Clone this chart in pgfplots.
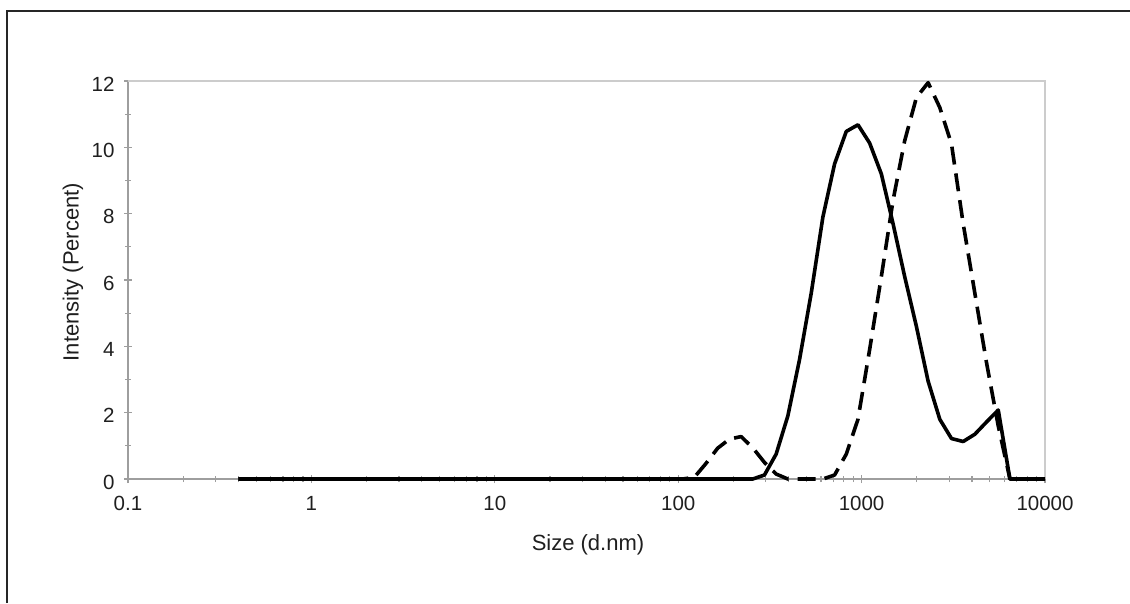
\documentclass[border=0pt]{standalone}
\usepackage{fontspec}
\setmainfont{Liberation Sans}
\usepackage{pgfplots}
\pgfplotsset{compat=1.18}
\usepackage{pgfplotstable}

% Size distribution by intensity: two measurements on the same size bins
\pgfplotstableread{
size    runA    runB
0.4     0       0
0.4632  0       0
0.5365  0       0
0.6213  0       0
0.7195  0       0
0.8332  0       0
0.9649  0       0
1.117   0       0
1.294   0       0
1.499   0       0
1.736   0       0
2.010   0       0
2.328   0       0
2.696   0       0
3.122   0       0
3.615   0       0
4.187   0       0
4.849   0       0
5.615   0       0
6.503   0       0
7.531   0       0
8.721   0       0
10.10   0       0
11.70   0       0
13.54   0       0
15.69   0       0
18.17   0       0
21.04   0       0
24.36   0       0
28.21   0       0
32.67   0       0
37.84   0       0
43.82   0       0
50.75   0       0
58.77   0       0
68.06   0       0
78.82   0       0
91.28   0       0
105.7   0       0
122.4   0       0.05
141.8   0       0.47
164.2   0       0.93
190.1   0       1.20
220.2   0       1.28
255.0   0       0.94
295.3   0.12    0.50
342.0   0.75    0.15
396.1   1.90    0
458.7   3.60    0
531.2   5.60    0
615.1   7.90    0
712.4   9.50    0.12
825.0   10.48   0.75
955.4   10.68   1.80
1106    10.13   3.90
1281    9.20    6.10
1484    7.70    8.40
1718    6.10    10.20
1990    4.60    11.50
2305    2.95    11.95
2669    1.80    11.20
3091    1.22    10.10
3580    1.13    7.70
4145    1.35    5.60
4801    1.72    3.50
5560    2.08    1.60
6439    0       0
7456    0       0
8635    0       0
10000   0       0
}\sizedata

\begin{document}
\begin{tikzpicture}[x=1pt,y=1pt]
\path[use as bounding box] (0,0) rectangle (1130,603);
% page frame
\draw[line width=1.6pt, black!85] (7,0) -- (7,592) -- (1130,592);
\begin{axis}[
  at={(128pt,124pt)}, anchor=south west,
  scale only axis, width=917pt, height=398pt,
  xmode=log, xmin=0.1, xmax=10000, ymin=0, ymax=12,
  clip=false,
  axis line style={draw=black!38, line width=1.5pt},
  xtick pos=bottom, ytick pos=left,
  xtick={0.1,1,10,100,1000,10000},
  xticklabels={0.1,1,10,100,1000,10000},
  minor xtick={0.2,0.3,0.4,0.5,0.6,0.7,0.8,0.9,
               2,3,4,5,6,7,8,9,
               20,30,40,50,60,70,80,90,
               200,300,400,500,600,700,800,900,
               2000,3000,4000,5000,6000,7000,8000,9000},
  ytick={0,2,4,6,8,10,12},
  minor ytick={1,3,5,7,9,11},
  tick align=center,
  major tick length=8pt, minor tick length=6pt,
  tick style={draw=black!38, line width=1.2pt},
  /pgf/number format/assume math mode=true,
  tick label style={font=\fontsize{20.5}{24}\selectfont, text=black!88},
  xticklabel style={anchor=north, yshift=-10pt},
  yticklabel style={anchor=east, xshift=-6pt, yshift=-3pt},
]
% lighter top and right edges of the frame
\draw[black!20, line width=1.7pt] (rel axis cs:0,1) -- (rel axis cs:1,1) -- (rel axis cs:1,0);
\addplot[black, line width=3.6pt, line join=round, dash pattern=on 18pt off 9pt]
  table[x=size, y=runB] {\sizedata};
\addplot[black, line width=3.6pt, line join=round]
  table[x=size, y=runA] {\sizedata};
\end{axis}
% axis titles
\node[font=\fontsize{22}{26}\selectfont, text=black!88, anchor=center]
  at (588,58) {Size (d.nm)};
\node[font=\fontsize{22}{26}\selectfont, text=black!88, anchor=center, rotate=90]
  at (73,331) {Intensity (Percent)};
\end{tikzpicture}
\end{document}
